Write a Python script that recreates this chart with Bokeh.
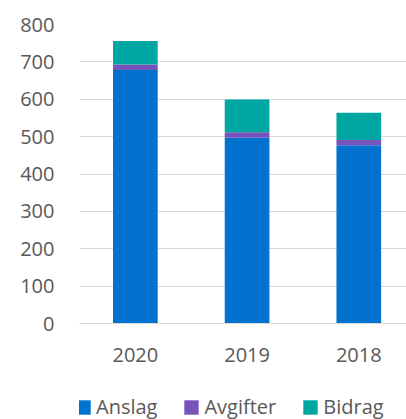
from bokeh.plotting import figure
from bokeh.layouts import column
from bokeh.models import Range1d, FixedTicker, Legend, LegendItem, ColumnDataSource
from bokeh.embed import file_html
from bokeh.resources import INLINE

years = ["2020", "2019", "2018"]
anslag = [678, 497, 477]
avgifter = [15, 15, 14]
bidrag = [63, 87, 73]
series = ["Anslag", "Avgifter", "Bidrag"]
colors = ["#0173CF", "#7853BA", "#00A7A2"]
y_ticks = [0, 100, 200, 300, 400, 500, 600, 700, 800]

xs = [i + 0.5 for i in range(len(years))]
source = ColumnDataSource(dict(x=xs, Anslag=anslag, Avgifter=avgifter, Bidrag=bidrag))

FONT = "Open Sans"
TXT = "#595959"

p = figure(width=406, height=380, output_backend="svg", toolbar_location=None,
           x_range=Range1d(0, 2.927), y_range=Range1d(0, 800),
           min_border_left=79, min_border_right=0, min_border_top=24, min_border_bottom=57)
p.outline_line_color = None

rs = p.vbar_stack(series, x="x", width=0.4, color=colors, line_color=None, source=source)

p.xgrid.grid_line_color = None
p.ygrid.grid_line_color = "#d9d9d9"
p.ygrid.grid_line_width = 1.2
p.ygrid.ticker = FixedTicker(ticks=y_ticks)

p.yaxis.ticker = FixedTicker(ticks=y_ticks)
p.yaxis.axis_line_color = None
p.yaxis.major_tick_line_color = None
p.yaxis.minor_tick_line_color = None
p.yaxis.major_tick_out = 0
p.yaxis.major_label_standoff = 25
p.yaxis.major_label_text_font = FONT
p.yaxis.major_label_text_font_size = "20px"
p.yaxis.major_label_text_color = TXT

p.xaxis.ticker = FixedTicker(ticks=xs)
p.xaxis.major_label_overrides = {x: y for x, y in zip(xs, years)}
p.xaxis.axis_line_color = "#d9d9d9"
p.xaxis.axis_line_width = 1.2
p.xaxis.major_tick_line_color = None
p.xaxis.minor_tick_line_color = None
p.xaxis.major_tick_out = 0
p.xaxis.major_label_standoff = 24
p.xaxis.major_label_text_font = FONT
p.xaxis.major_label_text_font_size = "20px"
p.xaxis.major_label_text_color = TXT

# legend strip (frame is aligned with the main plot's frame by the column layout)
pl = figure(width=406, height=39, output_backend="svg", toolbar_location=None,
            x_range=Range1d(0, 1), y_range=Range1d(0, 1),
            x_axis_location=None, y_axis_location=None,
            min_border_left=79, min_border_right=0, min_border_top=0, min_border_bottom=0)
pl.outline_line_color = None
pl.xgrid.grid_line_color = None
pl.ygrid.grid_line_color = None
dummies = [pl.vbar(x=[-10], top=[-10], width=0.1, color=c, line_color=None) for c in colors]

legend = Legend(items=[LegendItem(label=s, renderers=[r]) for s, r in zip(series, dummies)],
                orientation="horizontal", location=(-5, -1),
                glyph_width=18, glyph_height=18, label_standoff=4, spacing=25,
                padding=0, margin=0, border_line_color=None, background_fill_alpha=0,
                label_text_font=FONT, label_text_font_size="20px", label_text_color=TXT)
pl.add_layout(legend, "center")

layout = column(p, pl, spacing=0)
open("out.html", "w").write(file_html(layout, INLINE))
